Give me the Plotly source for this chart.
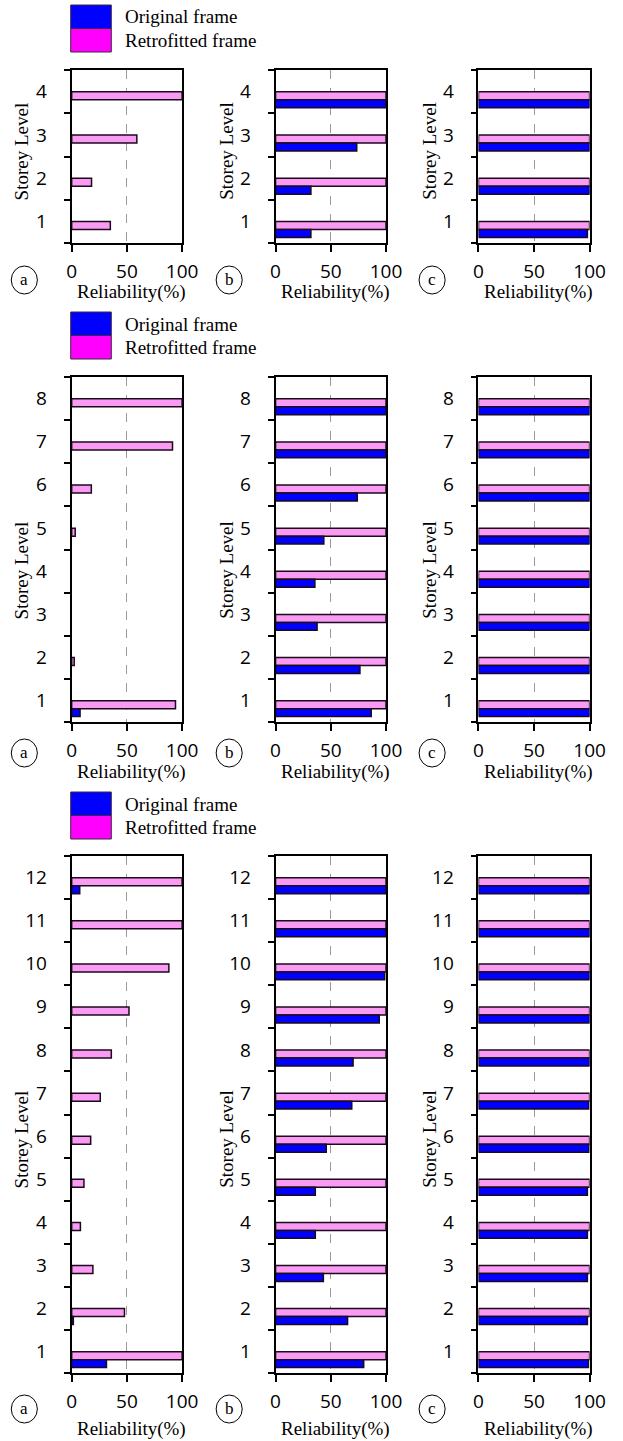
import plotly.graph_objects as go

W, H = 623, 1441

# ---------------- data ----------------
storeys_4 = [1, 2, 3, 4]
storeys_8 = [1, 2, 3, 4, 5, 6, 7, 8]
storeys_12 = [1, 2, 3, 4, 5, 6, 7, 8, 9, 10, 11, 12]

# 4-storey frame
orig_4a = [0, 0, 0, 0]
retro_4a = [35, 18, 59, 100]
orig_4b = [32, 32, 73.5, 100]
retro_4b = [100, 100, 100, 100]
orig_4c = [98, 100, 100, 100]
retro_4c = [100, 100, 100, 100]

# 8-storey frame
orig_8a = [7.6, 0, 0, 0, 0, 0, 0, 0]
retro_8a = [94, 2.3, 0, 0, 3.2, 17.8, 91.3, 100]
orig_8b = [86.6, 76.4, 37.6, 35.6, 43.7, 74, 100, 100]
retro_8b = [100, 100, 100, 100, 100, 100, 100, 100]
orig_8c = [100, 100, 100, 100, 100, 100, 100, 100]
retro_8c = [100, 100, 100, 100, 100, 100, 100, 100]

# 12-storey frame
orig_12a = [31.5, 1.5, 0, 0, 0, 0, 0, 0, 0, 0, 0, 7.3]
retro_12a = [100, 47.8, 19.2, 7.9, 11.1, 17.2, 25.9, 35.9, 51.9, 88, 100, 100]
orig_12b = [79.8, 65.2, 43.3, 36, 36, 45.9, 69, 70.2, 93.9, 98.8, 100, 100]
retro_12b = [100, 100, 100, 100, 100, 100, 100, 100, 100, 100, 100, 100]
orig_12c = [99, 98, 98, 98, 98, 99.5, 99.4, 100, 100, 100, 100, 100]
retro_12c = [100, 100, 100, 100, 100, 100, 100, 100, 100, 100, 100, 100]

x_ticks = [0, 50, 100]
panel_letters = ["a", "b", "c"]
legend_labels = ["Original frame", "Retrofitted frame"]

rows_data = [
    (storeys_4, [(orig_4a, retro_4a), (orig_4b, retro_4b), (orig_4c, retro_4c)]),
    (storeys_8, [(orig_8a, retro_8a), (orig_8b, retro_8b), (orig_8c, retro_8c)]),
    (storeys_12, [(orig_12a, retro_12a), (orig_12b, retro_12b), (orig_12c, retro_12c)]),
]

# ---------------- layout geometry (pixels) ----------------
cols_px = [(69, 183.3), (280, 394.3), (490, 605)]
rows_px = [(70, 243), (377, 722), (856, 1373)]
legend_top_px = [5, 312, 792]
ylabel_x_px = [17, 228.5, 438.5]
ylabel_y_px = [151, 570, 1139]
circle_x_px = [20, 232, 442]
circle_y_px = [280, 753, 1409]
xtitle_y_px = [292, 772, 1429]

BLUE = "#0000FF"
PINK = "#F99AF3"
EDGE = "#1c0a1c"
SERIF = "Liberation Serif"
SANS = "Open Sans"


def px(x):
    return x / W


def py(y):
    return 1 - y / H


def edge_widths(vals):
    return [0 if v == 0 else 1.5 for v in vals]


fig = go.Figure()
layout = {}
shapes = []
annotations = []

for r, (storeys, panels) in enumerate(rows_data):
    n = len(storeys)
    y0p, y1p = rows_px[r]
    for c, (orig, retro) in enumerate(panels):
        k = r * 3 + c + 1
        sfx = "" if k == 1 else str(k)
        x0p, x1p = cols_px[c]
        fig.add_trace(go.Bar(
            y=storeys, x=retro, orientation="h",
            offset=-0.19, width=0.185,
            marker=dict(color=PINK, line=dict(color=EDGE, width=edge_widths(retro))),
            xaxis="x" + sfx, yaxis="y" + sfx, showlegend=False,
            name=legend_labels[1], hoverinfo="x+y",
        ))
        fig.add_trace(go.Bar(
            y=storeys, x=orig, orientation="h",
            offset=-0.375, width=0.185,
            marker=dict(color=BLUE, line=dict(color=EDGE, width=edge_widths(orig))),
            xaxis="x" + sfx, yaxis="y" + sfx, showlegend=False,
            name=legend_labels[0], hoverinfo="x+y",
        ))
        layout["xaxis" + sfx] = dict(
            domain=[px(x0p), px(x1p)], anchor="y" + sfx, range=[0, 100],
            tickmode="array", tickvals=x_ticks, ticks="outside", ticklen=7,
            tickwidth=1.5, tickcolor="black", showline=True, mirror=True,
            linecolor="black", linewidth=1.8, showgrid=True,
            gridcolor="#9a9a9a", griddash="dash", gridwidth=1,
            zeroline=False, tickfont=dict(family=SANS, size=19, color="black"),
            ticklabelstandoff=3, fixedrange=True,
        )
        layout["yaxis" + sfx] = dict(
            domain=[py(y1p), py(y0p)], anchor="x" + sfx, range=[0.5, n + 0.5],
            tickmode="array", tickvals=storeys, ticks="outside", ticklen=6,
            tickcolor="rgba(0,0,0,0)", ticklabelstandoff=13,
            minor=dict(tickmode="array", tickvals=[s - 0.5 for s in storeys] + [n + 0.5],
                       ticks="outside", ticklen=6, tickwidth=1.5, tickcolor="black",
                       showgrid=False),
            showline=True, mirror=True, linecolor="black", linewidth=1.8,
            showgrid=False, zeroline=False,
            tickfont=dict(family=SANS, size=19, color="black"), fixedrange=True,
        )
        # axis titles
        annotations.append(dict(
            text="Reliability(%)", x=px((x0p + x1p) / 2 + 5), y=py(xtitle_y_px[r]),
            xref="paper", yref="paper", showarrow=False, xanchor="center", yanchor="middle",
            font=dict(family=SERIF, size=19, color="black"),
        ))
        annotations.append(dict(
            text="Storey Level", x=px(ylabel_x_px[c]), y=py(ylabel_y_px[r]),
            xref="paper", yref="paper", showarrow=False, textangle=-90,
            xanchor="center", yanchor="middle",
            font=dict(family=SERIF, size=19, color="black"),
        ))
        # panel letter in circle
        cx, cy = circle_x_px[c], circle_y_px[r]
        shapes.append(dict(
            type="circle", xref="paper", yref="paper",
            x0=px(cx - 13.5), x1=px(cx + 13.5), y0=py(cy + 14), y1=py(cy - 14),
            line=dict(color="black", width=1), fillcolor="white",
        ))
        annotations.append(dict(
            text=panel_letters[c], x=px(cx), y=py(cy - 1), xref="paper", yref="paper",
            showarrow=False, xanchor="center", yanchor="middle",
            font=dict(family=SERIF, size=17, color="black"),
        ))

    # legend for this row
    lt = legend_top_px[r]
    for i, (lab, col) in enumerate(zip(legend_labels, [BLUE, "#FF00FF"])):
        top = lt + i * 23.5
        shapes.append(dict(
            type="rect", xref="paper", yref="paper",
            x0=px(68), x1=px(110), y0=py(top + 23.5), y1=py(top),
            line=dict(color="#3a2a3a", width=1), fillcolor=col,
        ))
        annotations.append(dict(
            text=lab, x=px(122), y=py(top + 12), xref="paper", yref="paper",
            showarrow=False, xanchor="left", yanchor="middle",
            font=dict(family=SERIF, size=19, color="black"),
        ))

fig.update_layout(
    width=W, height=H, margin=dict(l=0, r=0, t=0, b=0),
    paper_bgcolor="white", plot_bgcolor="white",
    barmode="overlay", showlegend=False,
    shapes=shapes, annotations=annotations,
    **layout,
)

fig.write_html("out.html", config={"displayModeBar": False},
               post_script="document.body.style.margin='0';")
